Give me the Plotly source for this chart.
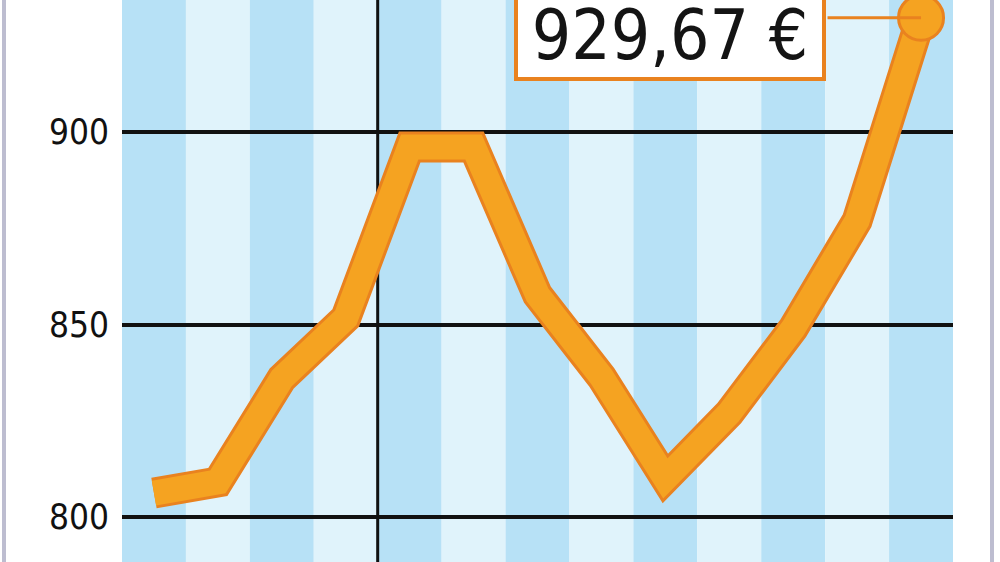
import plotly.graph_objects as go

# price data, one point per period (stripe)
periods = ["1", "2", "3", "4", "5", "6", "7", "8", "9", "10", "11", "12", "13"]
prices = [806.2, 809.1, 836.0, 851.7, 896.1, 896.1, 857.7, 836.4, 810.0, 827.0, 849.0, 877.0, 929.67]
y_ticks = [800, 850, 900]
y_tick_labels = ["800", "850", "900"]
last_label = "929,67 €"

DARK = "#b7e1f6"
LIGHT = "#e0f3fb"
ORANGE = "#f5a321"
ORANGE_EDGE = "#e9821f"

W, H = 1000, 562
L, R = 122, 47


def px_x(px):
    return (px - L) / (W - L - R)


fig = go.Figure()

# thick orange line with a darker rim
fig.add_trace(go.Scatter(x=periods, y=prices, mode="lines",
                         line=dict(color=ORANGE_EDGE, width=31),
                         hoverinfo="skip", showlegend=False))
fig.add_trace(go.Scatter(x=periods, y=prices, mode="lines",
                         line=dict(color=ORANGE, width=25),
                         showlegend=False))
fig.add_trace(go.Scatter(x=[periods[-1]], y=[prices[-1]], mode="markers",
                         marker=dict(size=45, color=ORANGE,
                                     line=dict(color=ORANGE_EDGE, width=3)),
                         showlegend=False))

# alternating stripes behind each period
shapes = []
for i in range(len(periods)):
    shapes.append(dict(type="rect", xref="x", yref="paper",
                       x0=i - 0.5, x1=i + 0.5, y0=0, y1=1,
                       fillcolor=DARK if i % 2 == 0 else LIGHT,
                       line=dict(width=0), layer="below"))
# year separator
shapes.append(dict(type="line", xref="x", yref="paper", x0=3.5, x1=3.5, y0=0, y1=1,
                   line=dict(color="#111111", width=3), layer="between"))
# frame lines at left and right edges
for px in (4, 992):
    shapes.append(dict(type="line", xref="paper", yref="paper",
                       x0=px_x(px), x1=px_x(px), y0=0, y1=1,
                       line=dict(color="#bdbdd0", width=4)))

last_i = len(periods) - 1  # category index for annotations
annotations = [
    # connector from box to last point
    dict(x=last_i, y=prices[-1], xref="x", yref="y", text="",
         showarrow=True, arrowhead=0, arrowwidth=3, arrowcolor=ORANGE_EDGE,
         ax=-95, ay=0, standoff=0),
    dict(x=last_i, y=prices[-1], xref="x", yref="y", text=last_label,
         showarrow=False, xanchor="right", yanchor="bottom",
         xshift=-95, yshift=-63, width=300, height=96, valign="bottom",
         bgcolor="white", bordercolor=ORANGE_EDGE, borderwidth=4, borderpad=2,
         font=dict(family="DejaVu Sans Condensed", size=69, color="#141414")),
]

fig.update_layout(
    width=W, height=H,
    margin=dict(l=L, r=R, t=0, b=0),
    paper_bgcolor="white", plot_bgcolor="white",
    shapes=shapes, annotations=annotations,
    xaxis=dict(type="category", range=[-0.5, 12.5], showticklabels=False,
               showgrid=False, zeroline=False, fixedrange=True),
    yaxis=dict(range=[788.3, 934.3], tickvals=y_ticks, ticktext=y_tick_labels,
               showgrid=True, gridcolor="#111111", gridwidth=4, zeroline=False,
               ticks="", ticklabelstandoff=12,
               tickfont=dict(family="DejaVu Sans Condensed", size=35, color="#111111")),
)

fig.write_html("out.html", config={"displayModeBar": False},
               post_script="document.body.style.margin='0';")
